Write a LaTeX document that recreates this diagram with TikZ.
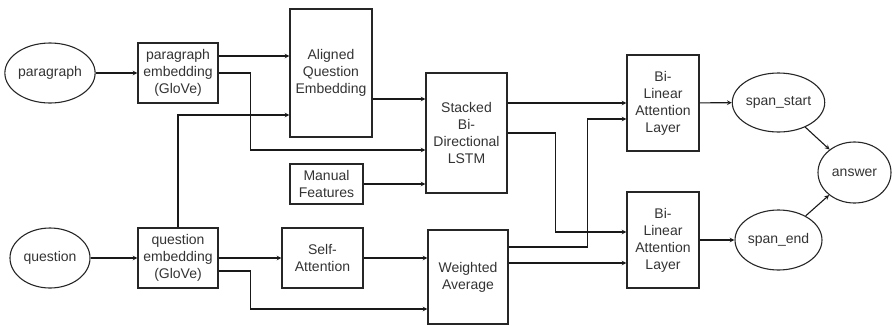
\documentclass[tikz,border=0pt]{standalone}
\usepackage{fontspec}
\setmainfont{Liberation Sans}
\usepackage{tikz}
\usetikzlibrary{shapes.geometric, arrows, positioning}

\begin{document}
\begin{tikzpicture}[
        x=1pt, y=-1pt,
        every node/.style={font=\fontsize{14}{17}\selectfont, text=black!80},
        block/.style={rectangle, draw=black!85, line width=1.1pt, align=center, inner sep=0pt},
        term/.style={ellipse, draw=black!85, line width=1.1pt, inner sep=0pt, minimum width=80pt, minimum height=60pt},
        link/.style={->, >=stealth, draw=black!90, line width=1.1pt}
    ]
    \useasboundingbox (0,0) rectangle (892,325);

    % Inputs
    \node[term] (para) at (50,73) {paragraph};
    \node[term] (quest) at (50,258) {question};

    % Embeddings
    \node[block, minimum width=80pt, minimum height=60pt] (pemb) at (178,73) {paragraph\\embedding\\(GloVe)};
    \node[block, minimum width=80pt, minimum height=60pt] (qemb) at (178,258) {question\\embedding\\(GloVe)};

    % Middle blocks
    \node[block, minimum width=82pt, minimum height=128pt] (aqe) at (331,73) {Aligned\\Question\\Embedding};
    \node[block, minimum width=73pt, minimum height=40pt] (manual) at (326.5,184) {Manual\\Features};
    \node[block, minimum width=81pt, minimum height=60pt] (selfatt) at (322.5,258) {Self-\\Attention};
    \node[block, minimum width=81pt, minimum height=120pt] (lstm) at (466.5,133) {Stacked\\Bi-\\Directional\\LSTM};
    \node[block, minimum width=80pt, minimum height=94pt] (wavg) at (468,277) {Weighted\\Average};

    % Bi-linear layers
    \node[block, minimum width=72pt, minimum height=96pt] (bil1) at (663,103) {Bi-\\Linear\\Attention\\Layer};
    \node[block, minimum width=72pt, minimum height=96pt] (bil2) at (663,240) {Bi-\\Linear\\Attention\\Layer};

    % Outputs
    \node[term, minimum width=79pt, minimum height=59pt] (sstart) at (778.5,102.5) {span\_start};
    \node[term, minimum width=79pt, minimum height=60pt] (send) at (778.5,240) {span\_end};
    \node[term, minimum width=73pt, minimum height=61pt] (answer) at (854.5,172.5) {answer};

    % Arrows
    \draw[link] (para) -- (pemb);
    \draw[link] (quest) -- (qemb);
    \draw[link] ([yshift=17pt]pemb.east) -- ([yshift=17pt]pemb.east -| aqe.west);
    \draw[link] (pemb.east) -- ++(32,0) |- ([yshift=-17pt]lstm.west);
    \draw[link] (qemb.north) |- ([yshift=-42pt]aqe.west);
    \draw[link] ([yshift=-26pt]aqe.east) -- ([yshift=34pt]lstm.west);
    \draw[link] (manual.east) -- (manual.east -| lstm.west);
    \draw[link] (qemb.east) -- (selfatt.west);
    \draw[link] ([yshift=-13pt]qemb.east) -- ++(32,0) |- ([yshift=-32pt]wavg.west);
    \draw[link] (selfatt.east) -- (selfatt.east -| wavg.west);
    \draw[link] ([yshift=30pt]lstm.east) -- (bil1.west);
    \draw[link] (lstm.east) -- ++(48,0) |- ([yshift=8pt]bil2.west);
    \draw[link] ([yshift=30pt]wavg.east) -- ++(79,0) |- ([yshift=-16pt]bil1.west);
    \draw[link] ([yshift=14pt]wavg.east) -- ([yshift=-23pt]bil2.west);
    \draw[link] (bil1) -- (sstart);
    \draw[link] (bil2) -- (send);
    \draw[link] (sstart) -- (answer);
    \draw[link] (send) -- (answer);

\end{tikzpicture}
\end{document}
